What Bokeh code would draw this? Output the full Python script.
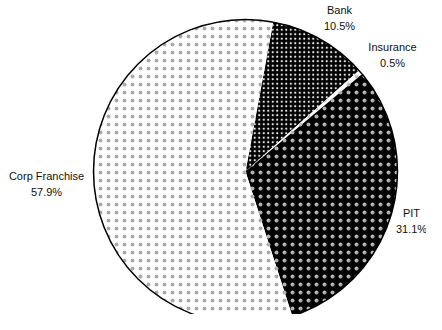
import math
from bokeh.plotting import figure
from bokeh.models import Range1d
from bokeh.core.properties import value
from bokeh.embed import file_html
from bokeh.resources import INLINE

categories = ["Bank", "Insurance", "PIT", "Corp Franchise"]
shares = [10.5, 0.5, 31.1, 57.9]
labels = ["10.5%", "0.5%", "31.1%", "57.9%"]

W, H = 426, 314
p = figure(width=W, height=H, output_backend="svg", toolbar_location=None,
           x_range=Range1d(0, W), y_range=Range1d(0, H), min_border=0)
p.axis.visible = False
p.grid.visible = False
p.outline_line_color = None
p.background_fill_color = "white"
p.border_fill_color = "white"

cx, cy, r = 245, 143, 152
start_clock = 10.5  # degrees clockwise from 12 o'clock

fills = ["black", "white", "black", "white"]
hatch_colors = ["white", "#888888", "white", "#555555"]
hatch_alphas = [0.9, 0.45, 0.7, 0.5]
hatch_scales = [4.5, 8.0, 8.0, 8.0]

starts, ends = [], []
acc = start_clock
for s in shares:
    a = acc
    b = acc + s / 100 * 360
    starts.append(math.radians(90 - a))
    ends.append(math.radians(90 - b))
    acc = b

for i in range(len(categories)):
    p.wedge(x=cx, y=cy, radius=r, start_angle=starts[i], end_angle=ends[i],
            direction="clock", fill_color=fills[i], line_color=None,
            hatch_pattern="dot", hatch_color=hatch_colors[i],
            hatch_alpha=hatch_alphas[i], hatch_scale=hatch_scales[i],
            hatch_weight=0.5)

# outer rim
p.circle(x=cx, y=cy, radius=r, fill_color=None, line_color="black", line_width=1.5)

# labels: page-pixel anchors of name line and value line
name_px = [(347, 17), (400, 54), (419, 220), (54, 183)]
val_dy = 16
for (px, py), c, l in zip(name_px, categories, labels):
    for t, yy in ((c, py), (l, py + val_dy)):
        p.text(x=[px - 8], y=[322 - yy], text=[t], text_align="center",
               text_baseline="middle", text_font=value("Liberation Sans"),
               text_font_size="11px", text_color="#111111")

open("out.html", "w").write(file_html(p, INLINE))
